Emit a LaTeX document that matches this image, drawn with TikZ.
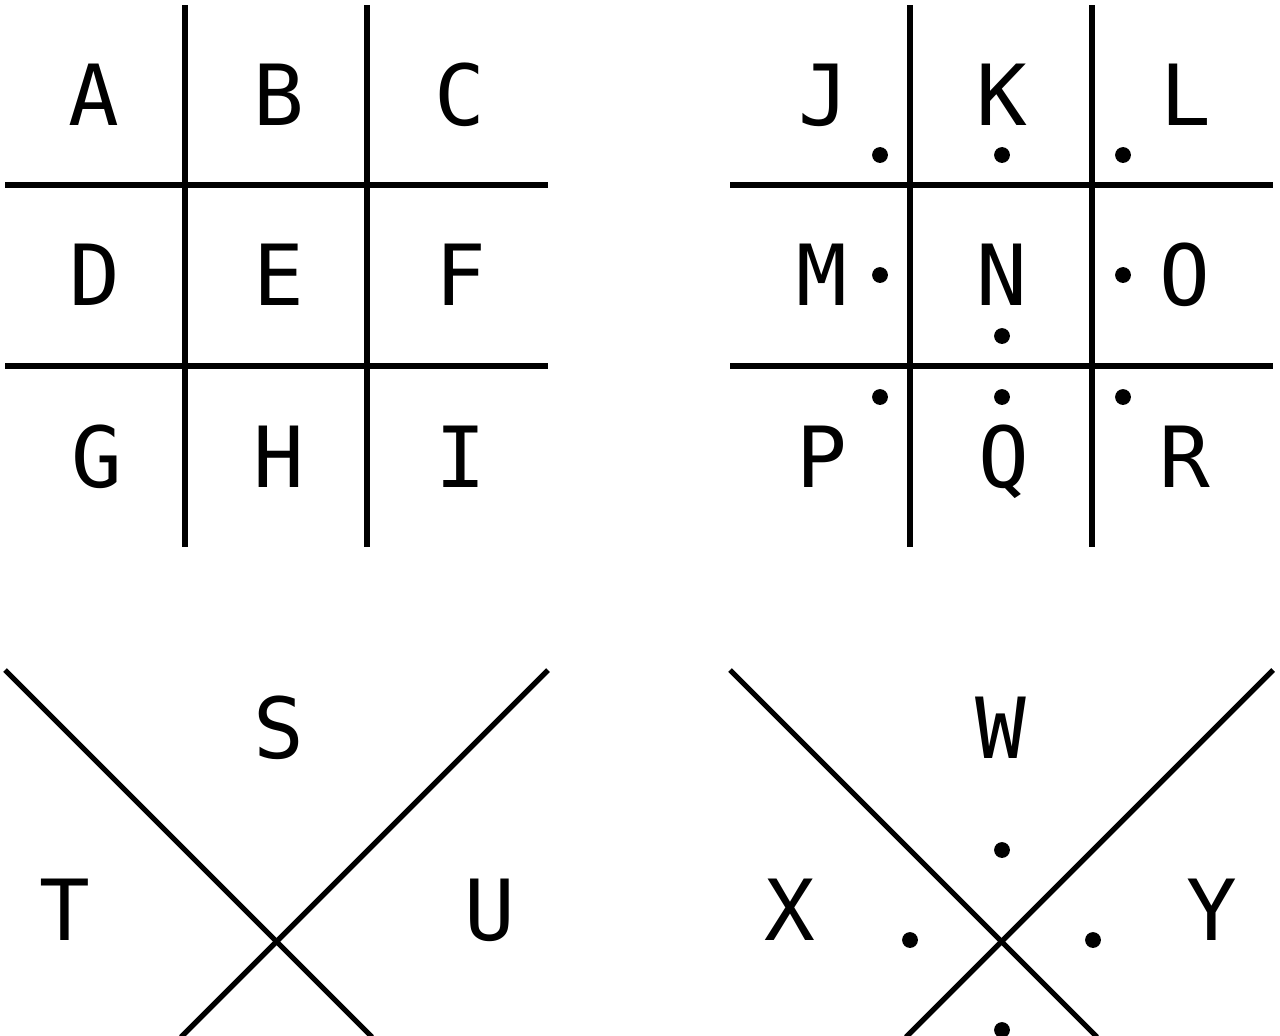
\documentclass[tikz,border=0pt]{standalone}
\usepackage{fontspec}
\setmonofont{DejaVu Sans Mono}
\tikzset{
  pen/.style={black,line width=3pt},
  letter/.style={anchor=base,inner sep=0pt,font=\ttfamily\fontsize{48}{50}\selectfont},
}
\newcommand{\pdot}[1]{\fill [black] #1 circle (4.5pt);}
\begin{document}
\begin{tikzpicture}[x=0.02cm,y=-0.02cm]
   \useasboundingbox (0,0) rectangle (1280,1035);
   % first grid
   \draw [pen] (5,185) -- (548,185);
   \draw [pen] (5,366) -- (548,366);
   \draw [pen] (185,5) -- (185,547);
   \draw [pen] (367,5) -- (367,547);
   \node [letter] (a) at (94,125) {A};
   \node [letter] (b) at (279,125) {B};
   \node [letter] (c) at (460,125) {C};
   \node [letter] (d) at (95,305) {D};
   \node [letter] (e) at (279,305) {E};
   \node [letter] (f) at (461,305) {F};
   \node [letter] (g) at (97,487) {G};
   \node [letter] (h) at (279,487) {H};
   \node [letter] (i) at (461,487) {I};
   % second grid, with dots
   \draw [pen] (730,185) -- (1273,185);
   \draw [pen] (730,366) -- (1273,366);
   \draw [pen] (910,5) -- (910,547);
   \draw [pen] (1092,5) -- (1092,547);
   \node [letter] (j) at (824,125) {J};
   \node [letter] (k) at (1002,125) {K};
   \node [letter] (l) at (1186,125) {L};
   \node [letter] (m) at (822,305) {M};
   \node [letter] (n) at (1002,305) {N};
   \node [letter] (o) at (1185,305) {O};
   \node [letter] (p) at (822,487) {P};
   \node [letter] (q) at (1004,487) {Q};
   \node [letter] (r) at (1185,487) {R};
   \pdot{(880,155)} \pdot{(1002,155)} \pdot{(1123,155)}
   \pdot{(880,275)} \pdot{(1002,336)} \pdot{(1123,275)}
   \pdot{(880,397)} \pdot{(1002,397)} \pdot{(1123,397)}
   % first cross
   \draw [pen] (5,670) -- (372,1037);
   \draw [pen] (548,670) -- (181,1037);
   \node [letter] (s) at (279,758) {S};
   \node [letter] (t) at (65,940) {T};
   \node [letter] (u) at (490,940) {U};
   % second cross, with dots
   \draw [pen] (730,670) -- (1097,1037);
   \draw [pen] (1273,670) -- (906,1037);
   \node [letter] (w) at (1001,758) {W};
   \node [letter] (x) at (790,940) {X};
   \node [letter] (y) at (1212,940) {Y};
   \pdot{(1002,850)} \pdot{(910,940)} \pdot{(1093,940)} \pdot{(1002,1030)}
\end{tikzpicture}
\end{document}
